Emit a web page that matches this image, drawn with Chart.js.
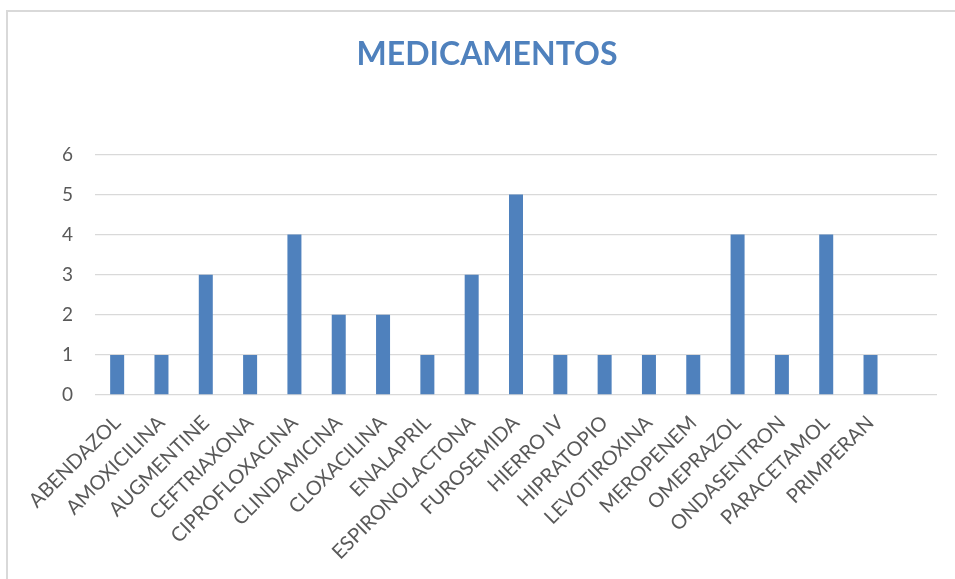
<!DOCTYPE html>
<html>
<head>
<meta charset="utf-8">
<script src="https://cdn.jsdelivr.net/npm/chart.js@4.4.0/dist/chart.umd.min.js"></script>
<style>
  body { margin: 0; background: #fff; overflow: hidden; }
  #wrap { position: absolute; left: 6px; top: 10px; width: 958px; height: 600px; border: 2px solid #d9d9d9; }
</style>
</head>
<body>
<div id="wrap"><canvas id="mycanvas" width="958" height="600"></canvas></div>
<script>
var medicamentos = ['ABENDAZOL', 'AMOXICILINA', 'AUGMENTINE', 'CEFTRIAXONA', 'CIPROFLOXACINA',
  'CLINDAMICINA', 'CLOXACILINA', 'ENALAPRIL', 'ESPIRONOLACTONA', 'FUROSEMIDA', 'HIERRO IV',
  'HIPRATOPIO', 'LEVOTIROXINA', 'MEROPENEM', 'OMEPRAZOL', 'ONDASENTRON', 'PARACETAMOL',
  'PRIMPERAN', ''];
var cantidad = [1, 1, 3, 1, 4, 2, 2, 1, 3, 5, 1, 1, 1, 1, 4, 1, 4, 1, null];
var yTicks = [0, 1, 2, 3, 4, 5, 6];

var ctx = document.getElementById('mycanvas');

var chartdata = {
  labels: medicamentos,
  datasets: [
    {
      label: 'MEDICAMENTOS',
      backgroundColor: '#4f81bd',
      data: cantidad,
      categoryPercentage: 1,
      barPercentage: 0.316
    }
  ]
};

var barGraph = new Chart(ctx, {
  type: 'bar',
  data: chartdata,
  options: {
    responsive: false,
    animation: false,
    layout: { padding: { left: 0, right: 0, top: 0, bottom: 37 } },
    plugins: {
      legend: { display: false },
      tooltip: { enabled: false },
      title: {
        display: true,
        text: 'MEDICAMENTOS',
        color: '#4f81bd',
        font: { family: 'Lato', size: 32, weight: 'bold' },
        padding: { top: 23, bottom: 81 }
      }
    },
    scales: {
      x: {
        grid: { display: false },
        border: { display: false },
        ticks: {
          color: '#595959',
          font: { family: 'Lato', size: 20 },
          minRotation: 45,
          maxRotation: 45,
          autoSkip: false,
          padding: 8
        },
        afterFit: function(s) { s.height = 180; }
      },
      y: {
        min: 0,
        max: 6,
        afterBuildTicks: function(s) { s.ticks = yTicks.map(function(v) { return { value: v }; }); },
        grid: { color: '#d9d9d9', lineWidth: 1.3, drawTicks: false },
        border: { display: false },
        ticks: {
          color: '#595959',
          font: { family: 'Lato', size: 19 },
          padding: 22
        },
        afterFit: function(s) { s.width = 87; }
      },
      y2: {
        position: 'right',
        grid: { display: false },
        border: { display: false },
        ticks: { display: false },
        afterFit: function(s) { s.width = 29; }
      }
    }
  }
});
</script>
</body>
</html>
